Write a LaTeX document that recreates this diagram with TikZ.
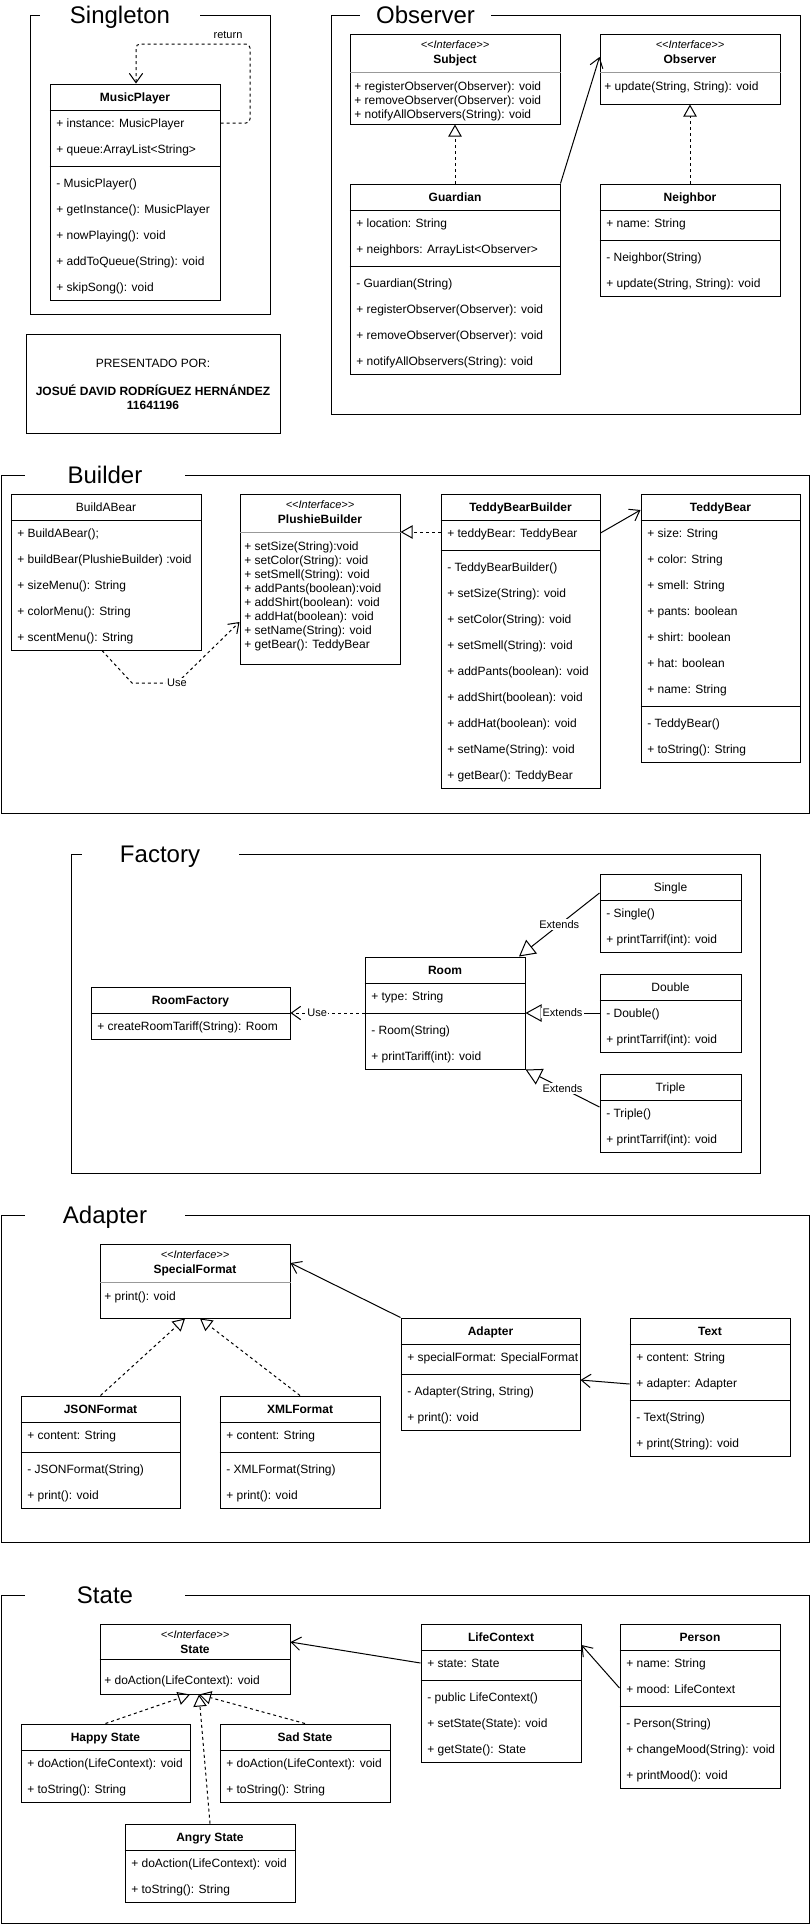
\documentclass[tikz,border=0pt]{standalone}
\usepackage{fontspec}
\setmainfont{Liberation Sans}
\usetikzlibrary{arrows.meta,fit}

\tikzset{
  umlbox/.style={draw, line width=0.75pt, inner sep=0pt},
  member/.style={anchor=west, inner sep=0pt, text height=6.4pt, text depth=0pt, font=\fontsize{9}{11}\selectfont},
  classname/.style={inner sep=0pt, text height=6.4pt, text depth=0pt, font=\fontsize{9}{11}\selectfont\bfseries},
  plainname/.style={inner sep=0pt, text height=6.4pt, text depth=0pt, font=\fontsize{9}{11}\selectfont},
  stereo/.style={inner sep=0pt, text height=5.9pt, text depth=0pt, font=\fontsize{8.25}{10}\selectfont\itshape},
  frametitle/.style={fill=white, inner sep=0pt, minimum height=22pt, text height=12.9pt, text depth=0pt, font=\fontsize{18}{22}\selectfont},
  edgelabel/.style={fill=white, inner sep=1pt, text height=5.9pt, text depth=0pt, font=\fontsize{8.25}{10}\selectfont},
  divider/.style={line width=0.75pt},
  softdivider/.style={line width=0.75pt, draw=black!40},
  patternframe/.style={line width=0.75pt},
  realize/.style={line width=0.75pt, dash pattern=on 2.25pt off 2.25pt, -{Triangle[open, length=9pt, width=10pt]}},
  extends/.style={line width=0.75pt, -{Triangle[open, length=12pt, width=13pt]}},
  assoc/.style={line width=0.75pt, -{Straight Barb[length=7pt, width=10pt]}},
  usedep/.style={line width=0.75pt, dash pattern=on 2.25pt off 2.25pt, -{Straight Barb[length=7pt, width=10pt]}}
}

\begin{document}
\begin{tikzpicture}[x=0.75pt, y=-0.75pt]
  \useasboundingbox (0,0) rectangle (811,1925);

  % Singleton
  \draw[patternframe] (30,15) rectangle (270,314);
  \node[frametitle, minimum width=120pt] (singletontitle) at (120,15) {Singleton};

  \node[umlbox, fit={(50,84) (220,300)}] (musicplayer) {};
  \draw[divider] (musicplayer.west |- 0,110) -- (musicplayer.east |- 0,110);
  \draw[divider] (musicplayer.west |- 0,166) -- (musicplayer.east |- 0,166);
  \node[classname] (musicplayername) at (135,97) {MusicPlayer};
  \node[member] (mp1) at (56,123) {+ instance: MusicPlayer};
  \node[member] (mp2) at (56,149) {+ queue:ArrayList<String>};
  \node[member] (mp3) at (56,183) {- MusicPlayer()};
  \node[member] (mp4) at (56,209) {+ getInstance(): MusicPlayer};
  \node[member] (mp5) at (56,235) {+ nowPlaying(): void};
  \node[member] (mp6) at (56,261) {+ addToQueue(String): void};
  \node[member] (mp7) at (56,287) {+ skipSong(): void};

  \draw[usedep, rounded corners=3pt] (musicplayer.east |- 0,123) -| (250,44) -| (musicplayer.north -| 136,0);
  \node[edgelabel, fill=none] (returnlabel) at (228,35) {return};

  % Presentado por
  \node[umlbox, fit={(26,334) (280,433)}] (presentado) {};
  \node[plainname] (presentadopor) at (153,363) {PRESENTADO POR:};
  \node[classname] (autor) at (153,391) {JOSUÉ DAVID RODRÍGUEZ HERNÁNDEZ};
  \node[classname] (carnet) at (153,405) {11641196};

  % Observer
  \draw[patternframe] (331,15) rectangle (800,414);
  \node[frametitle, minimum width=98.25pt] (observertitle) at (425.5,15) {Observer};

  \node[umlbox, fit={(350,34) (560,124)}] (subject) {};
  \draw[softdivider] (subject.west |- 0,72) -- (subject.east |- 0,72);
  \node[stereo] (subjectstereo) at (455,45) {<{}<Interface>{}>};
  \node[classname] (subjectname) at (455,59) {Subject};
  \node[member] (sj1) at (354,86) {+ registerObserver(Observer): void};
  \node[member] (sj2) at (354,100) {+ removeObserver(Observer): void};
  \node[member] (sj3) at (354,114) {+ notifyAllObservers(String): void};

  \node[umlbox, fit={(600,34) (780,104)}] (obsiface) {};
  \draw[softdivider] (obsiface.west |- 0,72) -- (obsiface.east |- 0,72);
  \node[stereo] (obsstereo) at (690,45) {<{}<Interface>{}>};
  \node[classname] (obsname) at (690,59) {Observer};
  \node[member] (ob1) at (604,86) {+ update(String, String): void};

  \node[umlbox, fit={(350,184) (560,374)}] (guardian) {};
  \draw[divider] (guardian.west |- 0,210) -- (guardian.east |- 0,210);
  \draw[divider] (guardian.west |- 0,266) -- (guardian.east |- 0,266);
  \node[classname] (guardianname) at (455,197) {Guardian};
  \node[member] (gd1) at (356,223) {+ location: String};
  \node[member] (gd2) at (356,249) {+ neighbors: ArrayList<Observer>};
  \node[member] (gd3) at (356,283) {- Guardian(String)};
  \node[member] (gd4) at (356,309) {+ registerObserver(Observer): void};
  \node[member] (gd5) at (356,335) {+ removeObserver(Observer): void};
  \node[member] (gd6) at (356,361) {+ notifyAllObservers(String): void};

  \node[umlbox, fit={(600,184) (780,296)}] (neighbor) {};
  \draw[divider] (neighbor.west |- 0,210) -- (neighbor.east |- 0,210);
  \draw[divider] (neighbor.west |- 0,240) -- (neighbor.east |- 0,240);
  \node[classname] (neighborname) at (690,197) {Neighbor};
  \node[member] (nb1) at (606,223) {+ name: String};
  \node[member] (nb2) at (606,257) {- Neighbor(String)};
  \node[member] (nb3) at (606,283) {+ update(String, String): void};

  \draw[realize] (guardian.north) -- (subject.south);
  \draw[assoc] (guardian.north east) -- (obsiface.west |- 0,57);
  \draw[realize] (neighbor.north) -- (obsiface.south);

  % Builder
  \draw[patternframe] (1,475) rectangle (809,813);
  \node[frametitle, minimum width=120pt] (buildertitle) at (105,475) {Builder};

  \node[umlbox, fit={(11,494) (201,650)}] (buildabear) {};
  \draw[divider] (buildabear.west |- 0,520) -- (buildabear.east |- 0,520);
  \node[plainname] (buildabearname) at (106,507) {BuildABear};
  \node[member] (bb1) at (17,533) {+ BuildABear();};
  \node[member] (bb2) at (17,559) {+ buildBear(PlushieBuilder) :void};
  \node[member] (bb3) at (17,585) {+ sizeMenu(): String};
  \node[member] (bb4) at (17,611) {+ colorMenu(): String};
  \node[member] (bb5) at (17,637) {+ scentMenu(): String};

  \node[umlbox, fit={(240,494) (400,664)}] (plushie) {};
  \draw[softdivider] (plushie.west |- 0,532) -- (plushie.east |- 0,532);
  \node[stereo] (plushiestereo) at (320,505) {<{}<Interface>{}>};
  \node[classname] (plushiename) at (320,519) {PlushieBuilder};
  \node[member] (pb1) at (244,546) {+ setSize(String):void};
  \node[member] (pb2) at (244,560) {+ setColor(String): void};
  \node[member] (pb3) at (244,574) {+ setSmell(String): void};
  \node[member] (pb4) at (244,588) {+ addPants(boolean):void};
  \node[member] (pb5) at (244,602) {+ addShirt(boolean): void};
  \node[member] (pb6) at (244,616) {+ addHat(boolean): void};
  \node[member] (pb7) at (244,630) {+ setName(String): void};
  \node[member] (pb8) at (244,644) {+ getBear(): TeddyBear};

  \node[umlbox, fit={(441,494) (600,788)}] (tbbuilder) {};
  \draw[divider] (tbbuilder.west |- 0,520) -- (tbbuilder.east |- 0,520);
  \draw[divider] (tbbuilder.west |- 0,550) -- (tbbuilder.east |- 0,550);
  \node[classname] (tbbuildername) at (520.5,507) {TeddyBearBuilder};
  \node[member] (tbb1) at (447,533) {+ teddyBear: TeddyBear};
  \node[member] (tbb2) at (447,567) {- TeddyBearBuilder()};
  \node[member] (tbb3) at (447,593) {+ setSize(String): void};
  \node[member] (tbb4) at (447,619) {+ setColor(String): void};
  \node[member] (tbb5) at (447,645) {+ setSmell(String): void};
  \node[member] (tbb6) at (447,671) {+ addPants(boolean): void};
  \node[member] (tbb7) at (447,697) {+ addShirt(boolean): void};
  \node[member] (tbb8) at (447,723) {+ addHat(boolean): void};
  \node[member] (tbb9) at (447,749) {+ setName(String): void};
  \node[member] (tbb10) at (447,775) {+ getBear(): TeddyBear};

  \node[umlbox, fit={(641,494) (800,762)}] (teddybear) {};
  \draw[divider] (teddybear.west |- 0,520) -- (teddybear.east |- 0,520);
  \draw[divider] (teddybear.west |- 0,706) -- (teddybear.east |- 0,706);
  \node[classname] (teddybearname) at (720.5,507) {TeddyBear};
  \node[member] (tb1) at (647,533) {+ size: String};
  \node[member] (tb2) at (647,559) {+ color: String};
  \node[member] (tb3) at (647,585) {+ smell: String};
  \node[member] (tb4) at (647,611) {+ pants: boolean};
  \node[member] (tb5) at (647,637) {+ shirt: boolean};
  \node[member] (tb6) at (647,663) {+ hat: boolean};
  \node[member] (tb7) at (647,689) {+ name: String};
  \node[member] (tb8) at (647,723) {- TeddyBear()};
  \node[member] (tb9) at (647,749) {+ toString(): String};

  \draw[realize] (tbbuilder.west |- 0,532) -- (plushie.east |- 0,532);
  \draw[assoc] (tbbuilder.east |- 0,533) -- (teddybear.west |- 0,510);
  \draw[usedep] (buildabear.south -| 102,0) -- (132,683) -- (177,683) node[edgelabel] (uselabel1) {Use} -- (plushie.west |- 0,622);

  % Factory
  \draw[patternframe] (71,854) rectangle (760,1173);
  \node[frametitle, minimum width=117.75pt] (factorytitle) at (160,854) {Factory};

  \node[umlbox, fit={(91,987) (290,1039)}] (roomfactory) {};
  \draw[divider] (roomfactory.west |- 0,1013) -- (roomfactory.east |- 0,1013);
  \node[classname] (roomfactoryname) at (190.5,1000) {RoomFactory};
  \node[member] (rf1) at (97,1026) {+ createRoomTariff(String): Room};

  \node[umlbox, fit={(365,957) (525,1069)}] (room) {};
  \draw[divider] (room.west |- 0,983) -- (room.east |- 0,983);
  \draw[divider] (room.west |- 0,1013) -- (room.east |- 0,1013);
  \node[classname] (roomname) at (445,970) {Room};
  \node[member] (rm1) at (371,996) {+ type: String};
  \node[member] (rm2) at (371,1030) {- Room(String)};
  \node[member] (rm3) at (371,1056) {+ printTariff(int): void};

  \node[umlbox, fit={(600,874) (741,952)}] (single) {};
  \draw[divider] (single.west |- 0,900) -- (single.east |- 0,900);
  \node[plainname] (singlename) at (670.5,887) {Single};
  \node[member] (sg1) at (606,913) {- Single()};
  \node[member] (sg2) at (606,939) {+ printTarrif(int): void};

  \node[umlbox, fit={(600,974) (741,1052)}] (double) {};
  \draw[divider] (double.west |- 0,1000) -- (double.east |- 0,1000);
  \node[plainname] (doublename) at (670.5,987) {Double};
  \node[member] (db1) at (606,1013) {- Double()};
  \node[member] (db2) at (606,1039) {+ printTarrif(int): void};

  \node[umlbox, fit={(600,1074) (741,1152)}] (triple) {};
  \draw[divider] (triple.west |- 0,1100) -- (triple.east |- 0,1100);
  \node[plainname] (triplename) at (670.5,1087) {Triple};
  \node[member] (tr1) at (606,1113) {- Triple()};
  \node[member] (tr2) at (606,1139) {+ printTarrif(int): void};

  \draw[usedep] (room.west |- 0,1013) -- node[edgelabel, pos=0.64] (uselabel2) {Use} (roomfactory.east |- 0,1013);
  \draw[extends] (single.west |- 0,893) -- node[edgelabel] (extlabel1) {Extends} (room.north -| 519,0);
  \draw[extends] (double.west |- 0,1013) -- node[edgelabel] (extlabel2) {Extends} (room.east |- 0,1013);
  \draw[extends] (triple.west |- 0,1107) -- node[edgelabel] (extlabel3) {Extends} (room.south east);

  % Adapter
  \draw[patternframe] (1,1215) rectangle (809,1542);
  \node[frametitle, minimum width=120pt] (adaptertitle) at (105,1215) {Adapter};

  \node[umlbox, fit={(100,1244) (290,1318)}] (specialformat) {};
  \draw[softdivider] (specialformat.west |- 0,1282) -- (specialformat.east |- 0,1282);
  \node[stereo] (specialstereo) at (195,1255) {<{}<Interface>{}>};
  \node[classname] (specialname) at (195,1269) {SpecialFormat};
  \node[member] (sf1) at (104,1296) {+ print(): void};

  \node[umlbox, fit={(21,1396) (180,1508)}] (jsonformat) {};
  \draw[divider] (jsonformat.west |- 0,1422) -- (jsonformat.east |- 0,1422);
  \draw[divider] (jsonformat.west |- 0,1452) -- (jsonformat.east |- 0,1452);
  \node[classname] (jsonname) at (100.5,1409) {JSONFormat};
  \node[member] (js1) at (27,1435) {+ content: String};
  \node[member] (js2) at (27,1469) {- JSONFormat(String)};
  \node[member] (js3) at (27,1495) {+ print(): void};

  \node[umlbox, fit={(220,1396) (380,1508)}] (xmlformat) {};
  \draw[divider] (xmlformat.west |- 0,1422) -- (xmlformat.east |- 0,1422);
  \draw[divider] (xmlformat.west |- 0,1452) -- (xmlformat.east |- 0,1452);
  \node[classname] (xmlname) at (300,1409) {XMLFormat};
  \node[member] (xm1) at (226,1435) {+ content: String};
  \node[member] (xm2) at (226,1469) {- XMLFormat(String)};
  \node[member] (xm3) at (226,1495) {+ print(): void};

  \node[umlbox, fit={(401,1318) (580,1430)}] (adapter) {};
  \draw[divider] (adapter.west |- 0,1344) -- (adapter.east |- 0,1344);
  \draw[divider] (adapter.west |- 0,1374) -- (adapter.east |- 0,1374);
  \node[classname] (adaptername) at (490.5,1331) {Adapter};
  \node[member] (ad1) at (407,1357) {+ specialFormat: SpecialFormat};
  \node[member] (ad2) at (407,1391) {- Adapter(String, String)};
  \node[member] (ad3) at (407,1417) {+ print(): void};

  \node[umlbox, fit={(630,1318) (790,1456)}] (textclass) {};
  \draw[divider] (textclass.west |- 0,1344) -- (textclass.east |- 0,1344);
  \draw[divider] (textclass.west |- 0,1400) -- (textclass.east |- 0,1400);
  \node[classname] (textname) at (710,1331) {Text};
  \node[member] (tx1) at (636,1357) {+ content: String};
  \node[member] (tx2) at (636,1383) {+ adapter: Adapter};
  \node[member] (tx3) at (636,1417) {- Text(String)};
  \node[member] (tx4) at (636,1443) {+ print(String): void};

  \draw[realize] (jsonformat.north) -- (specialformat.south -| 185,0);
  \draw[realize] (xmlformat.north) -- (specialformat.south -| 200,0);
  \draw[assoc] (adapter.north west) -- (specialformat.east |- 0,1263);
  \draw[assoc] (textclass.west |- 0,1384) -- (adapter.east |- 0,1380);

  % State
  \draw[patternframe] (1,1595) rectangle (809,1923);
  \node[frametitle, minimum width=120pt] (statetitle) at (105,1595) {State};

  \node[umlbox, fit={(100,1624) (290,1694)}] (stateiface) {};
  \draw[divider] (stateiface.west |- 0,1659) -- (stateiface.east |- 0,1659);
  \node[stereo] (statestereo) at (195,1635) {<{}<Interface>{}>};
  \node[classname] (statename) at (195,1649) {State};
  \node[member] (st1) at (104,1680) {+ doAction(LifeContext): void};

  \node[umlbox, fit={(21,1724) (190,1802)}] (happystate) {};
  \draw[divider] (happystate.west |- 0,1750) -- (happystate.east |- 0,1750);
  \node[classname] (happyname) at (105.5,1737) {Happy State};
  \node[member] (hs1) at (27,1763) {+ doAction(LifeContext): void};
  \node[member] (hs2) at (27,1789) {+ toString(): String};

  \node[umlbox, fit={(220,1724) (390,1802)}] (sadstate) {};
  \draw[divider] (sadstate.west |- 0,1750) -- (sadstate.east |- 0,1750);
  \node[classname] (sadname) at (305,1737) {Sad State};
  \node[member] (ss1) at (226,1763) {+ doAction(LifeContext): void};
  \node[member] (ss2) at (226,1789) {+ toString(): String};

  \node[umlbox, fit={(125,1824) (295,1902)}] (angrystate) {};
  \draw[divider] (angrystate.west |- 0,1850) -- (angrystate.east |- 0,1850);
  \node[classname] (angryname) at (210,1837) {Angry State};
  \node[member] (as1) at (131,1863) {+ doAction(LifeContext): void};
  \node[member] (as2) at (131,1889) {+ toString(): String};

  \node[umlbox, fit={(421,1624) (581,1762)}] (lifecontext) {};
  \draw[divider] (lifecontext.west |- 0,1650) -- (lifecontext.east |- 0,1650);
  \draw[divider] (lifecontext.west |- 0,1680) -- (lifecontext.east |- 0,1680);
  \node[classname] (lifecontextname) at (501,1637) {LifeContext};
  \node[member] (lc1) at (427,1663) {+ state: State};
  \node[member] (lc2) at (427,1697) {- public LifeContext()};
  \node[member] (lc3) at (427,1723) {+ setState(State): void};
  \node[member] (lc4) at (427,1749) {+ getState(): State};

  \node[umlbox, fit={(620,1624) (780,1788)}] (person) {};
  \draw[divider] (person.west |- 0,1650) -- (person.east |- 0,1650);
  \draw[divider] (person.west |- 0,1706) -- (person.east |- 0,1706);
  \node[classname] (personname) at (700,1637) {Person};
  \node[member] (ps1) at (626,1663) {+ name: String};
  \node[member] (ps2) at (626,1689) {+ mood: LifeContext};
  \node[member] (ps3) at (626,1723) {- Person(String)};
  \node[member] (ps4) at (626,1749) {+ changeMood(String): void};
  \node[member] (ps5) at (626,1775) {+ printMood(): void};

  \draw[realize] (happystate.north) -- (stateiface.south -| 190,0);
  \draw[realize] (sadstate.north) -- (stateiface.south -| 199,0);
  \draw[realize] (angrystate.north) -- (stateiface.south -| 199,0);
  \draw[assoc] (lifecontext.west |- 0,1663) -- (stateiface.east |- 0,1642);
  \draw[assoc] (person.west |- 0,1688) -- (lifecontext.east |- 0,1645);
\end{tikzpicture}
\end{document}
